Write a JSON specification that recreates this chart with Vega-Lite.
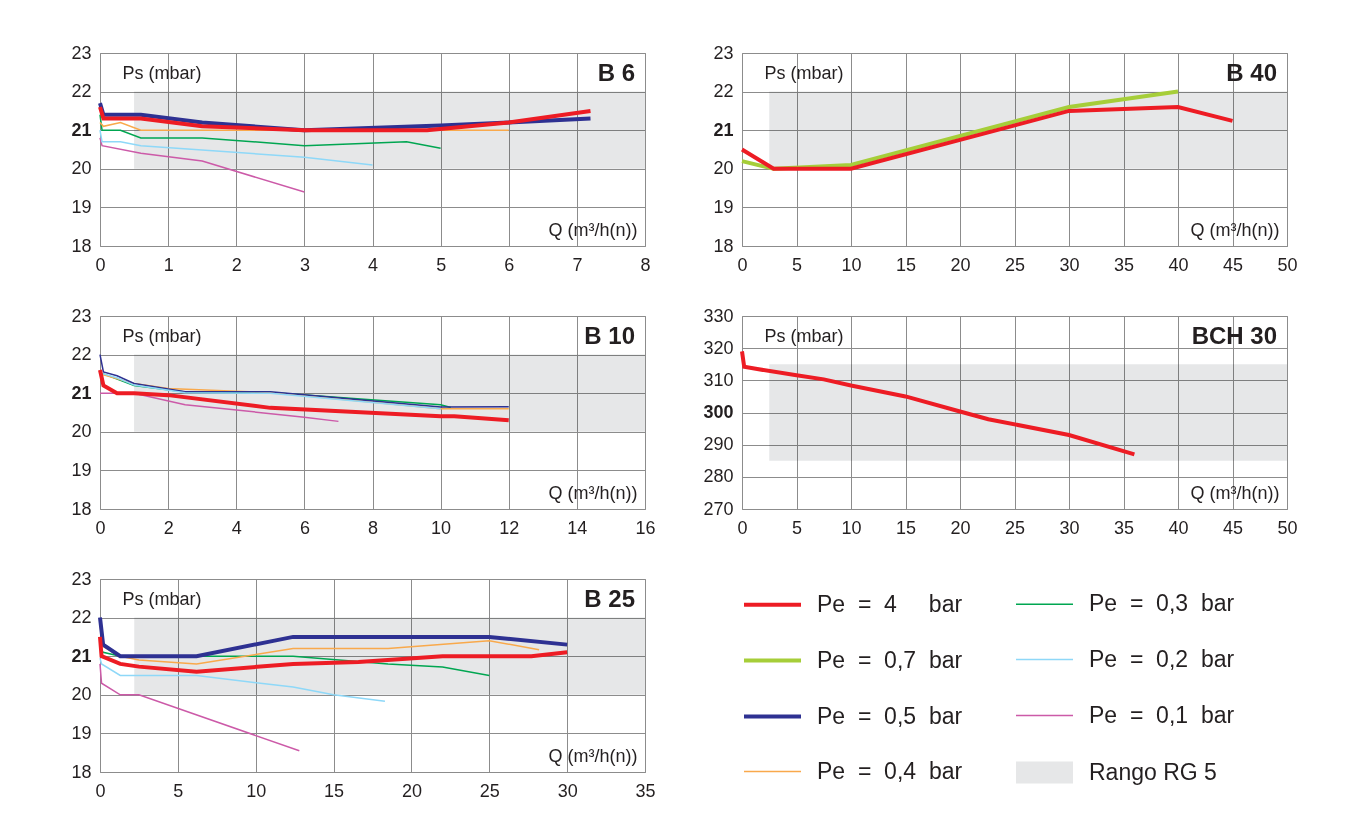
{
  "$schema": "https://vega.github.io/schema/vega-lite/v6.json",
  "padding": {"left": 70, "top": 43, "right": 5, "bottom": 5},
  "background": "white",
  "datasets": {
    "bands": [
      {"p": "B6", "q": 0.5, "q2": 8, "ps": 20, "ps2": 22},
      {"p": "B40", "q": 2.5, "q2": 50, "ps": 20, "ps2": 22},
      {"p": "B10", "q": 1, "q2": 16, "ps": 20, "ps2": 22},
      {"p": "BCH30", "q": 2.5, "q2": 50, "ps": 285, "ps2": 315},
      {"p": "B25", "q": 2.2, "q2": 35, "ps": 20, "ps2": 22}
    ],
    "curves": [
      {"p": "B6", "pe": "0,1", "q": 0, "ps": 20.8},
      {"p": "B6", "pe": "0,1", "q": 0.03, "ps": 20.6},
      {"p": "B6", "pe": "0,1", "q": 0.6, "ps": 20.4},
      {"p": "B6", "pe": "0,1", "q": 1.5, "ps": 20.2},
      {"p": "B6", "pe": "0,1", "q": 3, "ps": 19.4},
      {"p": "B6", "pe": "0,2", "q": 0, "ps": 21.0},
      {"p": "B6", "pe": "0,2", "q": 0.03, "ps": 20.7},
      {"p": "B6", "pe": "0,2", "q": 0.3, "ps": 20.7},
      {"p": "B6", "pe": "0,2", "q": 0.6, "ps": 20.6},
      {"p": "B6", "pe": "0,2", "q": 3, "ps": 20.3},
      {"p": "B6", "pe": "0,2", "q": 4, "ps": 20.1},
      {"p": "B6", "pe": "0,3", "q": 0, "ps": 21.4},
      {"p": "B6", "pe": "0,3", "q": 0.03, "ps": 21.0},
      {"p": "B6", "pe": "0,3", "q": 0.3, "ps": 21.0},
      {"p": "B6", "pe": "0,3", "q": 0.6, "ps": 20.8},
      {"p": "B6", "pe": "0,3", "q": 1.5, "ps": 20.8},
      {"p": "B6", "pe": "0,3", "q": 3, "ps": 20.6},
      {"p": "B6", "pe": "0,3", "q": 4.5, "ps": 20.7},
      {"p": "B6", "pe": "0,3", "q": 5, "ps": 20.53},
      {"p": "B6", "pe": "0,4", "q": 0, "ps": 21.2},
      {"p": "B6", "pe": "0,4", "q": 0.05, "ps": 21.1},
      {"p": "B6", "pe": "0,4", "q": 0.3, "ps": 21.2},
      {"p": "B6", "pe": "0,4", "q": 0.6, "ps": 21.0},
      {"p": "B6", "pe": "0,4", "q": 6, "ps": 21.0},
      {"p": "B6", "pe": "0,5", "q": 0, "ps": 21.7},
      {"p": "B6", "pe": "0,5", "q": 0.05, "ps": 21.4},
      {"p": "B6", "pe": "0,5", "q": 0.6, "ps": 21.4},
      {"p": "B6", "pe": "0,5", "q": 1.5, "ps": 21.2},
      {"p": "B6", "pe": "0,5", "q": 3, "ps": 21.0},
      {"p": "B6", "pe": "0,5", "q": 5, "ps": 21.12},
      {"p": "B6", "pe": "0,5", "q": 6, "ps": 21.2},
      {"p": "B6", "pe": "0,5", "q": 7.2, "ps": 21.3},
      {"p": "B6", "pe": "4", "q": 0, "ps": 21.6},
      {"p": "B6", "pe": "4", "q": 0.05, "ps": 21.3},
      {"p": "B6", "pe": "4", "q": 0.6, "ps": 21.3},
      {"p": "B6", "pe": "4", "q": 1.5, "ps": 21.1},
      {"p": "B6", "pe": "4", "q": 3, "ps": 21.0},
      {"p": "B6", "pe": "4", "q": 4.8, "ps": 21.0},
      {"p": "B6", "pe": "4", "q": 6, "ps": 21.2},
      {"p": "B6", "pe": "4", "q": 7.2, "ps": 21.5},

      {"p": "B40", "pe": "0,7", "q": 0, "ps": 20.2},
      {"p": "B40", "pe": "0,7", "q": 2.9, "ps": 20.0},
      {"p": "B40", "pe": "0,7", "q": 10, "ps": 20.1},
      {"p": "B40", "pe": "0,7", "q": 30, "ps": 21.6},
      {"p": "B40", "pe": "0,7", "q": 40, "ps": 22.0},
      {"p": "B40", "pe": "4", "q": 0, "ps": 20.5},
      {"p": "B40", "pe": "4", "q": 2.9, "ps": 20.0},
      {"p": "B40", "pe": "4", "q": 10, "ps": 20.0},
      {"p": "B40", "pe": "4", "q": 30, "ps": 21.5},
      {"p": "B40", "pe": "4", "q": 40, "ps": 21.6},
      {"p": "B40", "pe": "4", "q": 45, "ps": 21.24},

      {"p": "B10", "pe": "0,1", "q": 0, "ps": 21.0},
      {"p": "B10", "pe": "0,1", "q": 1, "ps": 21.0},
      {"p": "B10", "pe": "0,1", "q": 2.5, "ps": 20.7},
      {"p": "B10", "pe": "0,1", "q": 6, "ps": 20.38},
      {"p": "B10", "pe": "0,1", "q": 7, "ps": 20.27},
      {"p": "B10", "pe": "0,3", "q": 0, "ps": 21.5},
      {"p": "B10", "pe": "0,3", "q": 0.1, "ps": 21.5},
      {"p": "B10", "pe": "0,3", "q": 1, "ps": 21.2},
      {"p": "B10", "pe": "0,3", "q": 2.5, "ps": 21.03},
      {"p": "B10", "pe": "0,3", "q": 5, "ps": 21.02},
      {"p": "B10", "pe": "0,3", "q": 10, "ps": 20.7},
      {"p": "B10", "pe": "0,3", "q": 10.3, "ps": 20.63},
      {"p": "B10", "pe": "0,4", "q": 0, "ps": 21.5},
      {"p": "B10", "pe": "0,4", "q": 0.1, "ps": 21.48},
      {"p": "B10", "pe": "0,4", "q": 1, "ps": 21.25},
      {"p": "B10", "pe": "0,4", "q": 2, "ps": 21.12},
      {"p": "B10", "pe": "0,4", "q": 4, "ps": 21.05},
      {"p": "B10", "pe": "0,4", "q": 5, "ps": 21.02},
      {"p": "B10", "pe": "0,4", "q": 10, "ps": 20.6},
      {"p": "B10", "pe": "0,4", "q": 12, "ps": 20.6},
      {"p": "B10", "pe": "0,5", "q": 0, "ps": 22.0},
      {"p": "B10", "pe": "0,5", "q": 0.1, "ps": 21.55},
      {"p": "B10", "pe": "0,5", "q": 0.5, "ps": 21.45},
      {"p": "B10", "pe": "0,5", "q": 1, "ps": 21.25},
      {"p": "B10", "pe": "0,5", "q": 2.5, "ps": 21.04},
      {"p": "B10", "pe": "0,5", "q": 5, "ps": 21.04},
      {"p": "B10", "pe": "0,5", "q": 10, "ps": 20.64},
      {"p": "B10", "pe": "0,5", "q": 12, "ps": 20.65},
      {"p": "B10", "pe": "0,2", "q": 0, "ps": 21.5},
      {"p": "B10", "pe": "0,2", "q": 0.1, "ps": 21.5},
      {"p": "B10", "pe": "0,2", "q": 0.5, "ps": 21.4},
      {"p": "B10", "pe": "0,2", "q": 1, "ps": 21.21},
      {"p": "B10", "pe": "0,2", "q": 2.5, "ps": 21.01},
      {"p": "B10", "pe": "0,2", "q": 5, "ps": 21.0},
      {"p": "B10", "pe": "0,2", "q": 10, "ps": 20.6},
      {"p": "B10", "pe": "4", "q": 0, "ps": 21.6},
      {"p": "B10", "pe": "4", "q": 0.1, "ps": 21.2},
      {"p": "B10", "pe": "4", "q": 0.5, "ps": 21.0},
      {"p": "B10", "pe": "4", "q": 1, "ps": 21.0},
      {"p": "B10", "pe": "4", "q": 2, "ps": 20.95},
      {"p": "B10", "pe": "4", "q": 5, "ps": 20.62},
      {"p": "B10", "pe": "4", "q": 10, "ps": 20.4},
      {"p": "B10", "pe": "4", "q": 10.4, "ps": 20.4},
      {"p": "B10", "pe": "4", "q": 12, "ps": 20.3},

      {"p": "BCH30", "pe": "4", "q": 0, "ps": 319},
      {"p": "BCH30", "pe": "4", "q": 0.2, "ps": 314.2},
      {"p": "BCH30", "pe": "4", "q": 1.4, "ps": 313.5},
      {"p": "BCH30", "pe": "4", "q": 5, "ps": 311.6},
      {"p": "BCH30", "pe": "4", "q": 7.5, "ps": 310.3},
      {"p": "BCH30", "pe": "4", "q": 10, "ps": 308.4},
      {"p": "BCH30", "pe": "4", "q": 15, "ps": 305},
      {"p": "BCH30", "pe": "4", "q": 20, "ps": 300.3},
      {"p": "BCH30", "pe": "4", "q": 22.6, "ps": 297.9},
      {"p": "BCH30", "pe": "4", "q": 30, "ps": 293},
      {"p": "BCH30", "pe": "4", "q": 36, "ps": 287},

      {"p": "B25", "pe": "0,1", "q": 0, "ps": 20.8},
      {"p": "B25", "pe": "0,1", "q": 0.1, "ps": 20.3},
      {"p": "B25", "pe": "0,1", "q": 1.3, "ps": 20.0},
      {"p": "B25", "pe": "0,1", "q": 2.5, "ps": 20.0},
      {"p": "B25", "pe": "0,1", "q": 12.8, "ps": 18.55},
      {"p": "B25", "pe": "0,2", "q": 0, "ps": 20.95},
      {"p": "B25", "pe": "0,2", "q": 0.1, "ps": 20.8},
      {"p": "B25", "pe": "0,2", "q": 1.3, "ps": 20.5},
      {"p": "B25", "pe": "0,2", "q": 6.2, "ps": 20.5},
      {"p": "B25", "pe": "0,2", "q": 12.4, "ps": 20.2},
      {"p": "B25", "pe": "0,2", "q": 15, "ps": 20.0},
      {"p": "B25", "pe": "0,2", "q": 18.3, "ps": 19.83},
      {"p": "B25", "pe": "0,3", "q": 0, "ps": 21.2},
      {"p": "B25", "pe": "0,3", "q": 0.2, "ps": 21.1},
      {"p": "B25", "pe": "0,3", "q": 1.3, "ps": 21.0},
      {"p": "B25", "pe": "0,3", "q": 12.4, "ps": 21.0},
      {"p": "B25", "pe": "0,3", "q": 18.5, "ps": 20.8},
      {"p": "B25", "pe": "0,3", "q": 22, "ps": 20.72},
      {"p": "B25", "pe": "0,3", "q": 25, "ps": 20.5},
      {"p": "B25", "pe": "0,4", "q": 0, "ps": 21.8},
      {"p": "B25", "pe": "0,4", "q": 0.2, "ps": 21.25},
      {"p": "B25", "pe": "0,4", "q": 1.3, "ps": 21.0},
      {"p": "B25", "pe": "0,4", "q": 2.5, "ps": 20.9},
      {"p": "B25", "pe": "0,4", "q": 6.2, "ps": 20.8},
      {"p": "B25", "pe": "0,4", "q": 12.4, "ps": 21.2},
      {"p": "B25", "pe": "0,4", "q": 18.5, "ps": 21.2},
      {"p": "B25", "pe": "0,4", "q": 25, "ps": 21.4},
      {"p": "B25", "pe": "0,4", "q": 28.2, "ps": 21.17},
      {"p": "B25", "pe": "0,5", "q": 0, "ps": 22.0},
      {"p": "B25", "pe": "0,5", "q": 0.2, "ps": 21.3},
      {"p": "B25", "pe": "0,5", "q": 1.3, "ps": 21.0},
      {"p": "B25", "pe": "0,5", "q": 6.2, "ps": 21.0},
      {"p": "B25", "pe": "0,5", "q": 12.4, "ps": 21.5},
      {"p": "B25", "pe": "0,5", "q": 25, "ps": 21.5},
      {"p": "B25", "pe": "0,5", "q": 30, "ps": 21.3},
      {"p": "B25", "pe": "4", "q": 0, "ps": 21.5},
      {"p": "B25", "pe": "4", "q": 0.1, "ps": 21.0},
      {"p": "B25", "pe": "4", "q": 1.3, "ps": 20.8},
      {"p": "B25", "pe": "4", "q": 2.5, "ps": 20.73},
      {"p": "B25", "pe": "4", "q": 6.2, "ps": 20.6},
      {"p": "B25", "pe": "4", "q": 12.4, "ps": 20.8},
      {"p": "B25", "pe": "4", "q": 16.6, "ps": 20.85},
      {"p": "B25", "pe": "4", "q": 22, "ps": 21.0},
      {"p": "B25", "pe": "4", "q": 27.7, "ps": 21.0},
      {"p": "B25", "pe": "4", "q": 30, "ps": 21.1}
    ],
    "legendItems": [
      {"pe": "4"}, {"pe": "0,7"}, {"pe": "0,5"}, {"pe": "0,4"},
      {"pe": "0,3"}, {"pe": "0,2"}, {"pe": "0,1"}
    ],
    "rangeItem": [
      {"rg": "Rango RG 5"}
    ]
  },
  "columns": 2,
  "bounds": "flush",
  "spacing": {"row": 70, "column": 97},
  "resolve": {
    "scale": {"color": "independent", "strokeWidth": "independent", "stroke": "independent", "x": "independent", "y": "independent"},
    "legend": {"color": "independent", "strokeWidth": "independent", "stroke": "independent"}
  },
  "concat": [
    {
      "width": 545, "height": 193,
      "title": {"text": "B 6"},
      "encoding": {
        "x": {"field": "q", "type": "quantitative", "scale": {"domain": [0, 8], "nice": false, "zero": false}, "axis": {"values": [0, 1, 2, 3, 4, 5, 6, 7, 8], "format": "d", "title": "Q (m³/h(n))"}},
        "y": {"field": "ps", "type": "quantitative", "scale": {"domain": [18, 23], "nice": false, "zero": false}, "axis": {"values": [18, 19, 20, 21, 22, 23], "format": "d", "title": "Ps (mbar)", "labelFontWeight": {"condition": {"test": "datum.value == 21", "value": "bold"}, "value": "normal"}}}
      },
      "layer": [
        {
          "data": {"name": "bands"},
          "transform": [{"filter": "datum.p == 'B6'"}],
          "mark": {"type": "rect", "color": "#e6e7e8", "blend": "multiply"},
          "encoding": {"x2": {"field": "q2"}, "y2": {"field": "ps2"}}
        },
        {
          "data": {"name": "curves"},
          "transform": [{"filter": "datum.p == 'B6'"}],
          "mark": {"type": "line"},
          "encoding": {
            "color": {"field": "pe", "type": "nominal", "legend": null, "scale": {"domain": ["4", "0,7", "0,5", "0,4", "0,3", "0,2", "0,1"], "range": ["#ed1c24", "#a6ce39", "#2e3192", "#f9a94b", "#00a651", "#8ed8f8", "#cc5aa8"]}},
            "strokeWidth": {"field": "pe", "type": "nominal", "legend": null, "scale": {"type": "ordinal", "domain": ["4", "0,7", "0,5", "0,4", "0,3", "0,2", "0,1"], "range": [4, 4, 4, 1.5, 1.5, 1.5, 1.5]}}
          }
        }
      ]
    },
    {
      "width": 545, "height": 193,
      "title": {"text": "B 40"},
      "encoding": {
        "x": {"field": "q", "type": "quantitative", "scale": {"domain": [0, 50], "nice": false, "zero": false}, "axis": {"values": [0, 5, 10, 15, 20, 25, 30, 35, 40, 45, 50], "format": "d", "title": "Q (m³/h(n))"}},
        "y": {"field": "ps", "type": "quantitative", "scale": {"domain": [18, 23], "nice": false, "zero": false}, "axis": {"values": [18, 19, 20, 21, 22, 23], "format": "d", "title": "Ps (mbar)", "labelFontWeight": {"condition": {"test": "datum.value == 21", "value": "bold"}, "value": "normal"}}}
      },
      "layer": [
        {
          "data": {"name": "bands"},
          "transform": [{"filter": "datum.p == 'B40'"}],
          "mark": {"type": "rect", "color": "#e6e7e8", "blend": "multiply"},
          "encoding": {"x2": {"field": "q2"}, "y2": {"field": "ps2"}}
        },
        {
          "data": {"name": "curves"},
          "transform": [{"filter": "datum.p == 'B40'"}],
          "mark": {"type": "line"},
          "encoding": {
            "color": {"field": "pe", "type": "nominal", "legend": null, "scale": {"domain": ["4", "0,7", "0,5", "0,4", "0,3", "0,2", "0,1"], "range": ["#ed1c24", "#a6ce39", "#2e3192", "#f9a94b", "#00a651", "#8ed8f8", "#cc5aa8"]}},
            "strokeWidth": {"field": "pe", "type": "nominal", "legend": null, "scale": {"type": "ordinal", "domain": ["4", "0,7", "0,5", "0,4", "0,3", "0,2", "0,1"], "range": [4, 4, 4, 1.5, 1.5, 1.5, 1.5]}}
          }
        }
      ]
    },
    {
      "width": 545, "height": 193,
      "title": {"text": "B 10"},
      "encoding": {
        "x": {"field": "q", "type": "quantitative", "scale": {"domain": [0, 16], "nice": false, "zero": false}, "axis": {"values": [0, 2, 4, 6, 8, 10, 12, 14, 16], "format": "d", "title": "Q (m³/h(n))"}},
        "y": {"field": "ps", "type": "quantitative", "scale": {"domain": [18, 23], "nice": false, "zero": false}, "axis": {"values": [18, 19, 20, 21, 22, 23], "format": "d", "title": "Ps (mbar)", "labelFontWeight": {"condition": {"test": "datum.value == 21", "value": "bold"}, "value": "normal"}}}
      },
      "layer": [
        {
          "data": {"name": "bands"},
          "transform": [{"filter": "datum.p == 'B10'"}],
          "mark": {"type": "rect", "color": "#e6e7e8", "blend": "multiply"},
          "encoding": {"x2": {"field": "q2"}, "y2": {"field": "ps2"}}
        },
        {
          "data": {"name": "curves"},
          "transform": [{"filter": "datum.p == 'B10'"}],
          "mark": {"type": "line"},
          "encoding": {
            "color": {"field": "pe", "type": "nominal", "legend": null, "scale": {"domain": ["4", "0,7", "0,5", "0,4", "0,3", "0,2", "0,1"], "range": ["#ed1c24", "#a6ce39", "#2e3192", "#f9a94b", "#00a651", "#8ed8f8", "#cc5aa8"]}},
            "strokeWidth": {"field": "pe", "type": "nominal", "legend": null, "scale": {"type": "ordinal", "domain": ["4", "0,7", "0,5", "0,4", "0,3", "0,2", "0,1"], "range": [4, 4, 1.5, 1.5, 1.5, 1.5, 1.5]}}
          }
        }
      ]
    },
    {
      "width": 545, "height": 193,
      "title": {"text": "BCH 30"},
      "encoding": {
        "x": {"field": "q", "type": "quantitative", "scale": {"domain": [0, 50], "nice": false, "zero": false}, "axis": {"values": [0, 5, 10, 15, 20, 25, 30, 35, 40, 45, 50], "format": "d", "title": "Q (m³/h(n))"}},
        "y": {"field": "ps", "type": "quantitative", "scale": {"domain": [270, 330], "nice": false, "zero": false}, "axis": {"values": [270, 280, 290, 300, 310, 320, 330], "format": "d", "title": "Ps (mbar)", "labelFontWeight": {"condition": {"test": "datum.value == 300", "value": "bold"}, "value": "normal"}}}
      },
      "layer": [
        {
          "data": {"name": "bands"},
          "transform": [{"filter": "datum.p == 'BCH30'"}],
          "mark": {"type": "rect", "color": "#e6e7e8", "blend": "multiply"},
          "encoding": {"x2": {"field": "q2"}, "y2": {"field": "ps2"}}
        },
        {
          "data": {"name": "curves"},
          "transform": [{"filter": "datum.p == 'BCH30'"}],
          "mark": {"type": "line"},
          "encoding": {
            "color": {"field": "pe", "type": "nominal", "legend": null, "scale": {"domain": ["4", "0,7", "0,5", "0,4", "0,3", "0,2", "0,1"], "range": ["#ed1c24", "#a6ce39", "#2e3192", "#f9a94b", "#00a651", "#8ed8f8", "#cc5aa8"]}},
            "strokeWidth": {"field": "pe", "type": "nominal", "legend": null, "scale": {"type": "ordinal", "domain": ["4", "0,7", "0,5", "0,4", "0,3", "0,2", "0,1"], "range": [4, 4, 4, 1.5, 1.5, 1.5, 1.5]}}
          }
        }
      ]
    },
    {
      "width": 545, "height": 193,
      "title": {"text": "B 25"},
      "encoding": {
        "x": {"field": "q", "type": "quantitative", "scale": {"domain": [0, 35], "nice": false, "zero": false}, "axis": {"values": [0, 5, 10, 15, 20, 25, 30, 35], "format": "d", "title": "Q (m³/h(n))"}},
        "y": {"field": "ps", "type": "quantitative", "scale": {"domain": [18, 23], "nice": false, "zero": false}, "axis": {"values": [18, 19, 20, 21, 22, 23], "format": "d", "title": "Ps (mbar)", "labelFontWeight": {"condition": {"test": "datum.value == 21", "value": "bold"}, "value": "normal"}}}
      },
      "layer": [
        {
          "data": {"name": "bands"},
          "transform": [{"filter": "datum.p == 'B25'"}],
          "mark": {"type": "rect", "color": "#e6e7e8", "blend": "multiply"},
          "encoding": {"x2": {"field": "q2"}, "y2": {"field": "ps2"}}
        },
        {
          "data": {"name": "curves"},
          "transform": [{"filter": "datum.p == 'B25'"}],
          "mark": {"type": "line"},
          "encoding": {
            "color": {"field": "pe", "type": "nominal", "legend": null, "scale": {"domain": ["4", "0,7", "0,5", "0,4", "0,3", "0,2", "0,1"], "range": ["#ed1c24", "#a6ce39", "#2e3192", "#f9a94b", "#00a651", "#8ed8f8", "#cc5aa8"]}},
            "strokeWidth": {"field": "pe", "type": "nominal", "legend": null, "scale": {"type": "ordinal", "domain": ["4", "0,7", "0,5", "0,4", "0,3", "0,2", "0,1"], "range": [4, 4, 4, 1.5, 1.5, 1.5, 1.5]}}
          }
        }
      ]
    },
    {
      "width": 545, "height": 193,
      "view": {"stroke": null},
      "encoding": {
        "x": {"datum": 0, "type": "quantitative", "axis": null},
        "y": {"datum": 0, "type": "quantitative", "axis": null}
      },
      "layer": [
        {
          "data": {"name": "legendItems"},
          "mark": {"type": "line"},
          "encoding": {
            "color": {"field": "pe", "type": "nominal",
              "scale": {"domain": ["4", "0,7", "0,5", "0,4", "0,3", "0,2", "0,1"], "range": ["#ed1c24", "#a6ce39", "#2e3192", "#f9a94b", "#00a651", "#8ed8f8", "#cc5aa8"]},
              "legend": {"orient": "none", "legendX": 0, "legendY": -5, "columns": 2, "columnPadding": 50, "rowPadding": 13, "title": null, "symbolType": "stroke", "symbolSize": 3249, "labelFont": "Liberation Sans", "labelFontSize": 23, "labelColor": "#231f20", "labelOffset": 14, "labelLimit": 400,
                "labelExpr": "'Pe\u00a0\u00a0=\u00a0\u00a0' + datum.label + (datum.label == '4' ? '\u00a0\u00a0\u00a0\u00a0\u00a0' : '\u00a0\u00a0') + 'bar'"}},
            "strokeWidth": {"field": "pe", "type": "nominal",
              "scale": {"type": "ordinal", "domain": ["4", "0,7", "0,5", "0,4", "0,3", "0,2", "0,1"], "range": [4, 4, 4, 1.5, 1.5, 1.5, 1.5]},
              "legend": {"orient": "none", "legendX": 0, "legendY": -5, "columns": 2, "columnPadding": 50, "rowPadding": 13, "title": null, "symbolType": "stroke", "symbolSize": 3249, "labelFont": "Liberation Sans", "labelFontSize": 23, "labelColor": "#231f20", "labelOffset": 14, "labelLimit": 400,
                "labelExpr": "'Pe\u00a0\u00a0=\u00a0\u00a0' + datum.label + (datum.label == '4' ? '\u00a0\u00a0\u00a0\u00a0\u00a0' : '\u00a0\u00a0') + 'bar'"}}
          }
        },
        {
          "data": {"name": "rangeItem"},
          "mark": {"type": "line"},
          "encoding": {
            "stroke": {"field": "rg", "type": "nominal",
              "scale": {"domain": ["Rango RG 5"], "range": ["#e6e7e8"]},
              "legend": {"orient": "none", "legendX": 263, "legendY": 154, "title": null, "symbolType": "stroke", "symbolSize": 3249, "symbolStrokeWidth": 22, "labelFont": "Liberation Sans", "labelFontSize": 23, "labelColor": "#231f20", "labelOffset": 5, "labelLimit": 400}}
          }
        }
      ]
    }
  ],
  "config": {
    "font": "Liberation Sans",
    "view": {"stroke": "#8c8c8c", "strokeWidth": 1},
    "title": {"anchor": "end", "frame": "group", "offset": -42, "dx": -10, "fontSize": 24, "fontWeight": "bold", "font": "Liberation Sans", "color": "#231f20"},
    "axis": {"grid": true, "gridColor": "#8c8c8c", "gridWidth": 1, "domain": false, "ticks": false, "labelFont": "Liberation Sans", "labelFontSize": 18, "labelColor": "#231f20", "labelFlush": false, "labelOverlap": false, "titleFont": "Liberation Sans", "titleFontSize": 18, "titleFontWeight": "normal", "titleColor": "#231f20"},
    "axisX": {"titleX": 537, "titleY": -16, "titleAlign": "right", "titleBaseline": "middle", "titleAngle": 0, "labelPadding": 10},
    "axisY": {"titleX": 22, "titleY": 20, "titleAlign": "left", "titleBaseline": "middle", "titleAngle": 0, "labelPadding": 9}
  }
}
